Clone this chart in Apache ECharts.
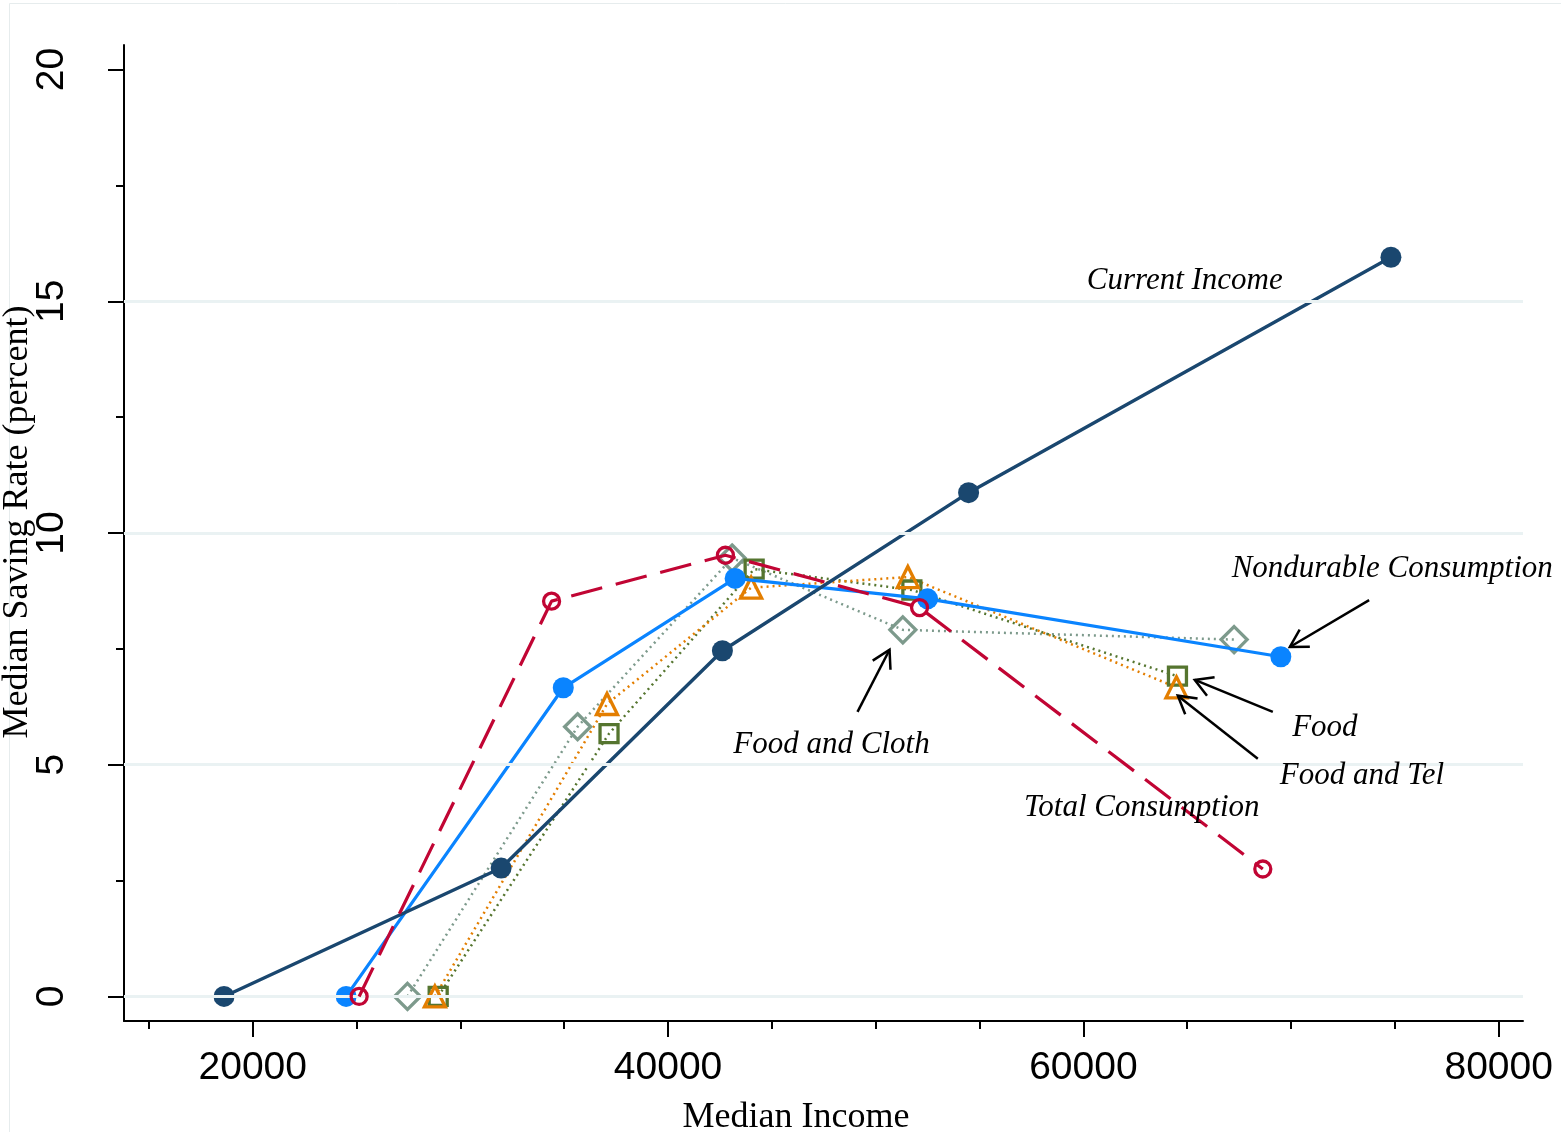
<!DOCTYPE html>
<html>
<head>
<meta charset="utf-8">
<script src="https://cdn.jsdelivr.net/npm/echarts@6/dist/echarts.min.js"></script>
<style>
html,body{margin:0;padding:0;background:#fff;}
#chart{width:1561px;height:1132px;}
</style>
</head>
<body>
<div id="chart"></div>
<script>
// ---- Data ----
const currentIncome   = [[18617, 0], [31960, 2.77], [42617, 7.46], [54472, 10.87], [74810, 15.95]];
const nondurable      = [[24497, 0], [34954, 6.66], [43229, 9.02], [52496, 8.58], [69508, 7.33]];
const totalCons       = [[25123, 0], [34390, 8.53], [42761, 9.52], [52110, 8.39], [68640, 2.75]];
const foodCloth       = [[27451, 0], [35643, 5.82], [43084, 9.46], [51306, 7.91], [67258, 7.70]];
const food            = [[28930, 0], [37157, 5.67], [44145, 9.22], [51740, 8.77], [64530, 6.91]];
const foodTel         = [[28771, 0], [37060, 6.31], [44000, 8.82], [51547, 9.05], [64482, 6.67]];

const xMajorTicks = [20000, 40000, 60000, 80000];
const xMinorTicks = [15000, 25000, 30000, 35000, 45000, 50000, 55000, 65000, 70000, 75000];
const yMajorTicks = [0, 5, 10, 15, 20];
const yMinorTicks = [2.5, 7.5, 12.5, 17.5];
const gridLines   = [0, 5, 10, 15];

// annotation labels: [x, y, text]
const annotations = [
  [64882, 15.44, 'Current Income'],
  [74873, 9.23, 'Nondurable Consumption'],
  [71629, 5.80, 'Food'],
  [73412, 4.76, 'Food and Tel'],
  [47870, 5.43, 'Food and Cloth'],
  [62810, 4.07, 'Total Consumption']
];
// arrows: [xFrom, yFrom, xTo, yTo]
const arrows = [
  [73760, 8.55, 69942, 7.54],
  [69123, 6.14, 65364, 6.83],
  [68400, 5.13, 64545, 6.49],
  [49123, 6.14, 50665, 7.48]
];

const X_MIN = 13800, X_MAX = 81170, Y_MIN = -0.53, Y_MAX = 20.53;

const chart = echarts.init(document.getElementById('chart'), null, {renderer: 'canvas'});

const sans = 'Liberation Sans, Arial, sans-serif';
const serif = 'Liberation Serif, Times New Roman, serif';

function hollow(color){ return {color: 'rgba(255,255,255,0)', borderColor: color, borderWidth: 3.3}; }

const option = {
  animation: false,
  backgroundColor: '#fff',
  grid: {left: 124, right: 38, top: 45, bottom: 111, containLabel: false},
  xAxis: [
    {
      type: 'value', min: X_MIN, max: X_MAX, position: 'bottom',
      axisLine: {show: true, onZero: false, lineStyle: {color: '#000', width: 2}},
      axisTick: {show: true, length: 16, customValues: xMajorTicks, lineStyle: {color: '#000', width: 2}},
      axisLabel: {show: true, customValues: xMajorTicks, margin: 28, color: '#000', fontFamily: sans, fontSize: 39,
                  formatter: v => String(v)},
      splitLine: {show: false}
    },
    {
      type: 'value', min: X_MIN, max: X_MAX, position: 'bottom',
      axisLine: {show: false, onZero: false},
      axisTick: {show: true, length: 8, customValues: xMinorTicks, lineStyle: {color: '#000', width: 2}},
      axisLabel: {show: false},
      splitLine: {show: false}
    }
  ],
  yAxis: [
    {
      type: 'value', min: Y_MIN, max: Y_MAX, position: 'left',
      axisLine: {show: true, onZero: false, lineStyle: {color: '#000', width: 2}},
      axisTick: {show: true, length: 16, customValues: yMajorTicks, lineStyle: {color: '#000', width: 2}},
      axisLabel: {show: true, customValues: yMajorTicks, rotate: 90, margin: 52, color: '#000', fontFamily: sans, fontSize: 39,
                  formatter: v => String(v)},
      splitLine: {show: false}
    },
    {
      type: 'value', min: Y_MIN, max: Y_MAX, position: 'left',
      axisLine: {show: false, onZero: false},
      axisTick: {show: true, length: 8, customValues: yMinorTicks, lineStyle: {color: '#000', width: 2}},
      axisLabel: {show: false},
      splitLine: {show: false}
    }
  ],
  graphic: [
    {type: 'rect', z: -10, shape: {x: 9.5, y: 3.5, width: 1600, height: 1200}, style: {fill: null, stroke: '#e6eced', lineWidth: 1}},
    {type: 'text', x: 18, y: 522, rotation: Math.PI / 2,
     style: {text: 'Median Saving Rate (percent)', font: '36px "Liberation Serif", serif', fill: '#000', textAlign: 'center', textVerticalAlign: 'middle'}},
    {type: 'text', x: 796, y: 1118,
     style: {text: 'Median Income', font: '36px "Liberation Serif", serif', fill: '#000', textAlign: 'center', textVerticalAlign: 'middle'}}
  ],
  series: [
    {
      name: 'grid', type: 'line', data: [], z: 1, silent: true,
      markLine: {
        silent: true, symbol: ['none', 'none'], label: {show: false},
        lineStyle: {color: '#eaf2f3', width: 3, type: 'solid'},
        data: gridLines.map(v => ({yAxis: v}))
      }
    },
    {
      name: 'Food and Cloth', type: 'line', data: foodCloth, z: 3,
      symbol: 'diamond', symbolSize: 26, itemStyle: hollow('#7d9a8c'),
      lineStyle: {color: '#7d9a8c', width: 2.5, type: [2, 4]}
    },
    {
      name: 'Food', type: 'line', data: food, z: 3,
      symbol: 'rect', symbolSize: 18, itemStyle: hollow('#55752f'),
      lineStyle: {color: '#55752f', width: 2.5, type: [2, 4]}
    },
    {
      name: 'Food and Tel', type: 'line', data: foodTel, z: 3,
      symbol: 'triangle', symbolSize: 21, itemStyle: hollow('#e37e00'),
      lineStyle: {color: '#e37e00', width: 2.5, type: [2, 4]}
    },
    {
      name: 'Nondurable Consumption', type: 'line', data: nondurable, z: 4,
      symbol: 'circle', symbolSize: 21, itemStyle: {color: '#0a84ff'},
      lineStyle: {color: '#0a84ff', width: 3.2, type: 'solid'}
    },
    {
      name: 'Current Income', type: 'line', data: currentIncome, z: 4,
      symbol: 'circle', symbolSize: 21, itemStyle: {color: '#1a476f'},
      lineStyle: {color: '#1a476f', width: 3.4, type: 'solid'}
    },
    {
      name: 'Total Consumption', type: 'line', data: totalCons, z: 5,
      symbol: 'circle', symbolSize: 16, itemStyle: hollow('#c10534'),
      lineStyle: {color: '#c10534', width: 3.2, type: [32, 14]}
    },
    {
      name: 'arrows', type: 'custom', z: 6, silent: true,
      data: arrows,
      encode: {x: [0, 2], y: [1, 3]},
      renderItem: function (params, api) {
        const p1 = api.coord([api.value(0), api.value(1)]);
        const p2 = api.coord([api.value(2), api.value(3)]);
        const ang = Math.atan2(p2[1] - p1[1], p2[0] - p1[0]);
        const L = 20, a = Math.PI / 6;
        const h1 = [p2[0] - L * Math.cos(ang - a), p2[1] - L * Math.sin(ang - a)];
        const h2 = [p2[0] - L * Math.cos(ang + a), p2[1] - L * Math.sin(ang + a)];
        return {
          type: 'group',
          children: [
            {type: 'line', shape: {x1: p1[0], y1: p1[1], x2: p2[0], y2: p2[1]}, style: {stroke: '#000', lineWidth: 2.5}},
            {type: 'polyline', shape: {points: [h1, p2, h2]}, style: {stroke: '#000', lineWidth: 2.5, fill: null}}
          ]
        };
      }
    },
    {
      name: 'labels', type: 'custom', z: 7, silent: true,
      data: annotations.map(a => [a[0], a[1]]),
      encode: {x: 0, y: 1},
      renderItem: function (params, api) {
        const p = api.coord([api.value(0), api.value(1)]);
        return {
          type: 'text', x: p[0], y: p[1],
          style: {
            text: annotations[params.dataIndex][2],
            fill: '#000', font: 'italic 31px "Liberation Serif", serif',
            align: 'center', verticalAlign: 'middle'
          }
        };
      }
    }
  ]
};

chart.setOption(option);
</script>
</body>
</html>
